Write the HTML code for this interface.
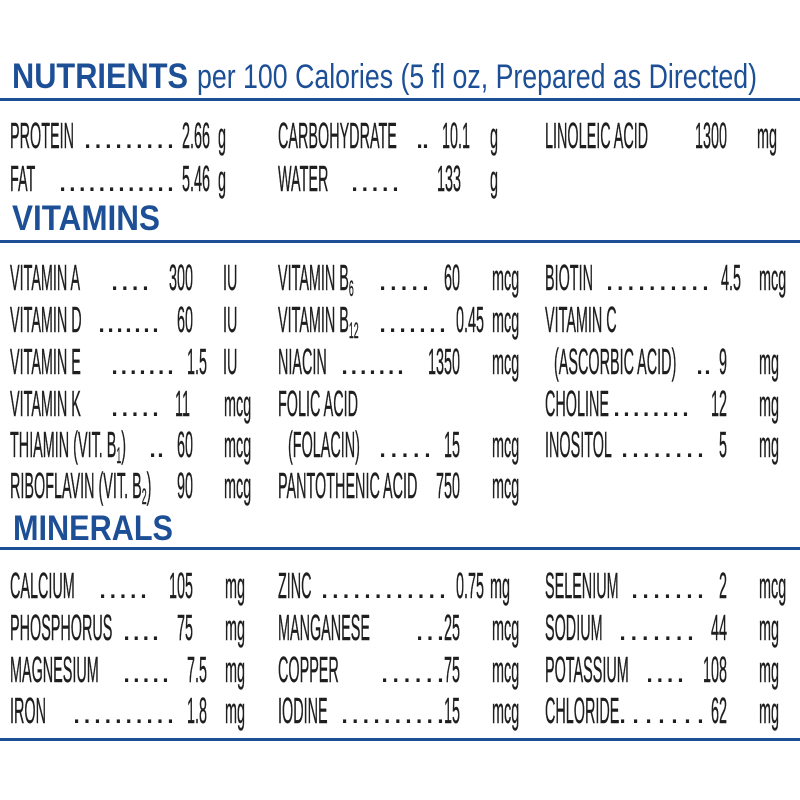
<!DOCTYPE html>
<html><head><meta charset="utf-8"><style>
html,body{margin:0;padding:0;background:#fff;}
svg{display:block}
.t{font-family:"Liberation Sans",sans-serif;font-size:36px;fill:#1e1e1e;stroke:#1e1e1e;stroke-width:0.4}
.h{font-family:"Liberation Sans",sans-serif;font-weight:bold;fill:#1c4f95}
.d{font-family:"Liberation Sans",sans-serif;font-size:33px;fill:#1e1e1e}
</style></head><body>
<svg width="800" height="800" viewBox="0 0 800 800" xmlns="http://www.w3.org/2000/svg">
<rect width="800" height="800" fill="#fff"/>
<g fill="#1c4f95">
<rect x="0" y="98" width="800" height="3"/>
<rect x="0" y="240" width="800" height="3"/>
<rect x="0" y="547" width="800" height="3"/>
<rect x="0" y="738" width="800" height="3"/>
</g>
<text class="h" x="12" y="88" font-size="35" textLength="176" lengthAdjust="spacingAndGlyphs">NUTRIENTS</text>
<text x="197" y="88" font-family="Liberation Sans, sans-serif" font-size="34" fill="#1c4f95" textLength="560" lengthAdjust="spacingAndGlyphs">per 100 Calories (5 fl oz, Prepared as Directed)</text>
<text class="h" x="12" y="230" font-size="35" textLength="148" lengthAdjust="spacingAndGlyphs">VITAMINS</text>
<text class="h" x="13" y="540" font-size="35" textLength="160" lengthAdjust="spacingAndGlyphs">MINERALS</text>

<g class="t">
<text transform="translate(10,148) scale(.40,1)">PROTEIN</text>
<text transform="translate(210,148) scale(.40,1)" text-anchor="end">2.66</text>
<text transform="translate(218,148) scale(.40,1)">g</text>
<text transform="translate(10,191) scale(.40,1)">FAT</text>
<text transform="translate(210,191) scale(.40,1)" text-anchor="end">5.46</text>
<text transform="translate(218,191) scale(.40,1)">g</text>
<text transform="translate(278,148) scale(.40,1)">CARBOHYDRATE</text>
<text transform="translate(470,148) scale(.40,1)" text-anchor="end">10.1</text>
<text transform="translate(490,148) scale(.40,1)">g</text>
<text transform="translate(278,191) scale(.40,1)">WATER</text>
<text transform="translate(461,191) scale(.40,1)" text-anchor="end">133</text>
<text transform="translate(490,191) scale(.40,1)">g</text>
<text transform="translate(545,148) scale(.40,1)">LINOLEIC ACID</text>
<text transform="translate(727,148) scale(.40,1)" text-anchor="end">1300</text>
<text transform="translate(757,148) scale(.40,1)">mg</text>

<text transform="translate(10,290) scale(.40,1)">VITAMIN A</text>
<text transform="translate(193,290) scale(.40,1)" text-anchor="end">300</text>
<text transform="translate(223,290) scale(.40,1)">IU</text>
<text transform="translate(10,332) scale(.40,1)">VITAMIN D</text>
<text transform="translate(193,332) scale(.40,1)" text-anchor="end">60</text>
<text transform="translate(223,332) scale(.40,1)">IU</text>
<text transform="translate(10,374) scale(.40,1)">VITAMIN E</text>
<text transform="translate(207,374) scale(.40,1)" text-anchor="end">1.5</text>
<text transform="translate(223,374) scale(.40,1)">IU</text>
<text transform="translate(10,416) scale(.40,1)">VITAMIN K</text>
<text transform="translate(190,416) scale(.40,1)" text-anchor="end">11</text>
<text transform="translate(224,416) scale(.40,1)">mcg</text>
<text transform="translate(10,457) scale(.40,1)">THIAMIN (VIT. B<tspan font-size="22" dy="6">1</tspan><tspan dy="-6">)</tspan></text>
<text transform="translate(193,457) scale(.40,1)" text-anchor="end">60</text>
<text transform="translate(224,457) scale(.40,1)">mcg</text>
<text transform="translate(10,498) scale(.40,1)">RIBOFLAVIN (VIT. B<tspan font-size="22" dy="6">2</tspan><tspan dy="-6">)</tspan></text>
<text transform="translate(193,498) scale(.40,1)" text-anchor="end">90</text>
<text transform="translate(224,498) scale(.40,1)">mcg</text>

<text transform="translate(278,290) scale(.40,1)">VITAMIN B<tspan font-size="22" dy="6">6</tspan></text>
<text transform="translate(460,290) scale(.40,1)" text-anchor="end">60</text>
<text transform="translate(492,290) scale(.40,1)">mcg</text>
<text transform="translate(278,332) scale(.40,1)">VITAMIN B<tspan font-size="22" dy="6">12</tspan></text>
<text transform="translate(484,332) scale(.40,1)" text-anchor="end">0.45</text>
<text transform="translate(492,332) scale(.40,1)">mcg</text>
<text transform="translate(278,374) scale(.40,1)">NIACIN</text>
<text transform="translate(460,374) scale(.40,1)" text-anchor="end">1350</text>
<text transform="translate(492,374) scale(.40,1)">mcg</text>
<text transform="translate(278,416) scale(.40,1)">FOLIC ACID</text>
<text transform="translate(288,457) scale(.40,1)">(FOLACIN)</text>
<text transform="translate(460,457) scale(.40,1)" text-anchor="end">15</text>
<text transform="translate(492,457) scale(.40,1)">mcg</text>
<text transform="translate(278,498) scale(.40,1)">PANTOTHENIC ACID</text>
<text transform="translate(460,498) scale(.40,1)" text-anchor="end">750</text>
<text transform="translate(492,498) scale(.40,1)">mcg</text>

<text transform="translate(545,290) scale(.40,1)">BIOTIN</text>
<text transform="translate(741,290) scale(.40,1)" text-anchor="end">4.5</text>
<text transform="translate(759,290) scale(.40,1)">mcg</text>
<text transform="translate(545,332) scale(.40,1)">VITAMIN C</text>
<text transform="translate(554,374) scale(.40,1)">(ASCORBIC ACID)</text>
<text transform="translate(727,374) scale(.40,1)" text-anchor="end">9</text>
<text transform="translate(759,374) scale(.40,1)">mg</text>
<text transform="translate(545,416) scale(.40,1)">CHOLINE</text>
<text transform="translate(727,416) scale(.40,1)" text-anchor="end">12</text>
<text transform="translate(759,416) scale(.40,1)">mg</text>
<text transform="translate(545,457) scale(.40,1)">INOSITOL</text>
<text transform="translate(727,457) scale(.40,1)" text-anchor="end">5</text>
<text transform="translate(759,457) scale(.40,1)">mg</text>

<text transform="translate(10,598) scale(.40,1)">CALCIUM</text>
<text transform="translate(193,598) scale(.40,1)" text-anchor="end">105</text>
<text transform="translate(225,598) scale(.40,1)">mg</text>
<text transform="translate(10,640) scale(.40,1)">PHOSPHORUS</text>
<text transform="translate(193,640) scale(.40,1)" text-anchor="end">75</text>
<text transform="translate(225,640) scale(.40,1)">mg</text>
<text transform="translate(10,682) scale(.40,1)">MAGNESIUM</text>
<text transform="translate(207,682) scale(.40,1)" text-anchor="end">7.5</text>
<text transform="translate(225,682) scale(.40,1)">mg</text>
<text transform="translate(10,723) scale(.40,1)">IRON</text>
<text transform="translate(207,723) scale(.40,1)" text-anchor="end">1.8</text>
<text transform="translate(225,723) scale(.40,1)">mg</text>

<text transform="translate(278,598) scale(.40,1)">ZINC</text>
<text transform="translate(484,598) scale(.40,1)" text-anchor="end">0.75</text>
<text transform="translate(490,598) scale(.40,1)">mg</text>
<text transform="translate(278,640) scale(.40,1)">MANGANESE</text>
<text transform="translate(460,640) scale(.40,1)" text-anchor="end">25</text>
<text transform="translate(492,640) scale(.40,1)">mcg</text>
<text transform="translate(278,682) scale(.40,1)">COPPER</text>
<text transform="translate(460,682) scale(.40,1)" text-anchor="end">75</text>
<text transform="translate(492,682) scale(.40,1)">mcg</text>
<text transform="translate(278,723) scale(.40,1)">IODINE</text>
<text transform="translate(460,723) scale(.40,1)" text-anchor="end">15</text>
<text transform="translate(492,723) scale(.40,1)">mcg</text>

<text transform="translate(545,598) scale(.40,1)">SELENIUM</text>
<text transform="translate(727,598) scale(.40,1)" text-anchor="end">2</text>
<text transform="translate(759,598) scale(.40,1)">mcg</text>
<text transform="translate(545,640) scale(.40,1)">SODIUM</text>
<text transform="translate(727,640) scale(.40,1)" text-anchor="end">44</text>
<text transform="translate(759,640) scale(.40,1)">mg</text>
<text transform="translate(545,682) scale(.40,1)">POTASSIUM</text>
<text transform="translate(727,682) scale(.40,1)" text-anchor="end">108</text>
<text transform="translate(759,682) scale(.40,1)">mg</text>
<text transform="translate(545,723) scale(.40,1)">CHLORIDE</text>
<text transform="translate(727,723) scale(.40,1)" text-anchor="end">62</text>
<text transform="translate(759,723) scale(.40,1)">mg</text>
</g>

<g class="d">
<text x="83" y="148" textLength="92" lengthAdjust="spacing">. . . . . . . . .</text>
<text x="58" y="191" textLength="117" lengthAdjust="spacing">. . . . . . . . . . . .</text>
<text x="415" y="148" textLength="15" lengthAdjust="spacing">. .</text>
<text x="350" y="191" textLength="50" lengthAdjust="spacing">. . . . .</text>
<text x="110" y="290" textLength="40" lengthAdjust="spacing">. . . .</text>
<text x="97" y="332" textLength="63" lengthAdjust="spacing">. . . . . . .</text>
<text x="110" y="374" textLength="65" lengthAdjust="spacing">. . . . . . .</text>
<text x="110" y="416" textLength="50" lengthAdjust="spacing">. . . . .</text>
<text x="148" y="457" textLength="17" lengthAdjust="spacing">. .</text>
<text x="378" y="290" textLength="52" lengthAdjust="spacing">. . . . .</text>
<text x="378" y="332" textLength="69" lengthAdjust="spacing">. . . . . . .</text>
<text x="340" y="374" textLength="65" lengthAdjust="spacing">. . . . . . .</text>
<text x="378" y="457" textLength="54" lengthAdjust="spacing">. . . . .</text>
<text x="605" y="290" textLength="105" lengthAdjust="spacing">. . . . . . . . . .</text>
<text x="695" y="374" textLength="17" lengthAdjust="spacing">. .</text>
<text x="612" y="416" textLength="78" lengthAdjust="spacing">. . . . . . . .</text>
<text x="620" y="457" textLength="85" lengthAdjust="spacing">. . . . . . . .</text>
<text x="98" y="598" textLength="50" lengthAdjust="spacing">. . . . .</text>
<text x="122" y="640" textLength="38" lengthAdjust="spacing">. . . .</text>
<text x="122" y="682" textLength="48" lengthAdjust="spacing">. . . . .</text>
<text x="72" y="723" textLength="103" lengthAdjust="spacing">. . . . . . . . . .</text>
<text x="320" y="598" textLength="127" lengthAdjust="spacing">. . . . . . . . . . . .</text>
<text x="415" y="640" textLength="30" lengthAdjust="spacing">. . .</text>
<text x="380" y="682" textLength="65" lengthAdjust="spacing">. . . . . .</text>
<text x="340" y="723" textLength="105" lengthAdjust="spacing">. . . . . . . . . .</text>
<text x="630" y="598" textLength="75" lengthAdjust="spacing">. . . . . . .</text>
<text x="618" y="640" textLength="77" lengthAdjust="spacing">. . . . . . .</text>
<text x="645" y="682" textLength="40" lengthAdjust="spacing">. . . .</text>
<text x="618" y="723" textLength="87" lengthAdjust="spacing">. . . . . . .</text>
</g>
</svg>
</body></html>
